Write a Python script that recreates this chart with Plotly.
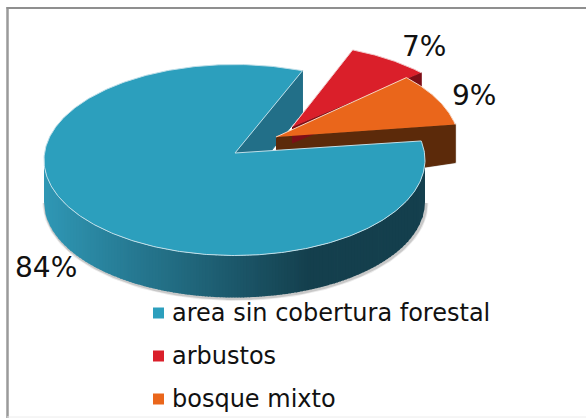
import numpy as np
import plotly.graph_objects as go

categories = ["area sin cobertura forestal", "arbustos", "bosque mixto"]
values = [84, 7, 9]
percent_labels = ["84%", "7%", "9%"]

top_colors = ["#2c9fbd", "#da1f2a", "#ea661b"]
wall_colors = ["#226f88", "#7d0e17", "#5c2a0a"]
START = 78.5          # clockwise from 12 o'clock, first slice
RX, RY = 190.5, 95.5
# ellipse centre, apex and wall depth of each (exploded) slice, in pixels
centres = [(234.5, 160.0), (284.0, 139.0), (268.5, 143.5)]
apexes = [(235.0, 153.0), (292.0, 127.0), (276.0, 137.0)]
depths = [42, 16, 38]
label_pos = [(46, 267), (424, 46), (474, 95)]
legend_y = [313, 356, 399]

fig = go.Figure()


def poly(xs, ys, color, line=None, width=1):
    fig.add_trace(go.Scatter(x=list(xs), y=list(ys), mode="lines", fill="toself",
                             fillcolor=color, line=dict(color=line or color, width=width),
                             hoverinfo="skip", showlegend=False))


def arc(c, a0, a1, n=120):
    t = np.radians(np.linspace(a0, a1, n))
    return c[0] + RX * np.sin(t), c[1] - RY * np.cos(t)


def mix(a, b, f):
    a = np.array([int(a[i:i + 2], 16) for i in (1, 3, 5)])
    b = np.array([int(b[i:i + 2], 16) for i in (1, 3, 5)])
    r = (a + (b - a) * f).round().astype(int)
    return f"rgb({r[0]},{r[1]},{r[2]})"


total = sum(values)
angles = [START]
for v in values:
    angles.append(angles[-1] + v * 360 / total)

bx, by = arc(centres[0], angles[0], angles[1], 400)
ax, ay = arc(centres[2], angles[2], angles[3])
rx_, ry_ = arc(centres[1], angles[1], angles[2])

# inner cut wall of the blue slice
poly([apexes[0][0], bx[-1], bx[-1], apexes[0][0]],
     [apexes[0][1], by[-1], by[-1] + depths[0], apexes[0][1] + depths[0]], wall_colors[0])

# orange cut wall, with a soft shadow
wx = [apexes[2][0], ax[-1], ax[-1], apexes[2][0]]
wy = [apexes[2][1], ay[-1], ay[-1] + depths[2], apexes[2][1] + depths[2] + 14]
poly(wx, wy, wall_colors[2], "#bdb6b0", 2)
poly(wx, wy, wall_colors[2])

# red slice
poly([apexes[1][0], rx_[-1], rx_[-1], apexes[1][0]],
     [apexes[1][1], ry_[-1], ry_[-1] + depths[1], apexes[1][1] + depths[1]], wall_colors[1])
poly([apexes[1][0], *rx_], [apexes[1][1], *ry_], top_colors[1], "#f2c9cb")

# orange top over the red wall
poly([apexes[2][0], *ax], [apexes[2][1], *ay], top_colors[2], "#f6d6c2")

# front part of the blue rim: right-most point round to the left-most point
fx, fy = arc(centres[0], 90, 270, 400)
fyb = fy + depths[0]

# soft shadow below the round wall
for w, col in [(5, "rgba(120,120,120,0.15)"), (3, "rgba(120,120,120,0.3)")]:
    fig.add_trace(go.Scatter(x=fx + 1, y=fyb + 1, mode="lines", line=dict(color=col, width=w),
                             hoverinfo="skip", showlegend=False))

# round wall, shaded left to right
fo = np.argsort(fx)
fxs, fys = fx[fo], fyb[fo]
n = 130
edges = np.linspace(fxs[0], fxs[-1], n + 1)
for i in range(n):
    xs = np.linspace(edges[i], min(edges[i + 1] + 0.8, fxs[-1]), 6)
    ys = np.interp(xs, fxs, fys)
    yt = ys - depths[0]
    f = np.clip((0.5 * (edges[i] + edges[i + 1]) - fxs[0]) / 265, 0, 1)
    c = mix("#2f97b5", "#143f4d", f)
    fig.add_trace(go.Scatter(x=list(xs) + list(xs[::-1]), y=list(ys) + list(yt[::-1]), mode="lines",
                             fill="toself", fillcolor=c, line=dict(width=0),
                             hoverinfo="skip", showlegend=False))

# blue top
poly([apexes[0][0], *bx, apexes[0][0]], [apexes[0][1], *by, apexes[0][1]], top_colors[0], "#bfdfe9")

# frame
for xs, ys, col, w in [([7.5, 7.5], [7, 418], "#9a9a9a", 2.5), ([6.5, 586], [8, 8], "#8f8f8f", 2),
                       ([7, 586], [417, 417], "#ececec", 1)]:
    fig.add_trace(go.Scatter(x=xs, y=ys, mode="lines", line=dict(color=col, width=w),
                             hoverinfo="skip", showlegend=False))

# legend
for name, col, y in zip(categories, top_colors, legend_y):
    fig.add_trace(go.Scatter(x=[158.5], y=[y], mode="markers", name=name,
                             marker=dict(symbol="square", size=11, color=col), showlegend=False))
    fig.add_annotation(x=170, y=y, text=name, showarrow=False, xanchor="left", yanchor="middle",
                       font=dict(family="DejaVu Sans", size=24, color="#111111"))
for t_, (x, y) in zip(percent_labels, label_pos):
    fig.add_annotation(x=x, y=y, text=t_, showarrow=False, font=dict(family="DejaVu Sans", size=28, color="#111111"))

fig.update_layout(width=586, height=418, margin=dict(l=0, r=0, t=0, b=0),
                  paper_bgcolor="white", plot_bgcolor="white", showlegend=False,
                  xaxis=dict(range=[0, 586], visible=False, fixedrange=True),
                  yaxis=dict(range=[418, 0], visible=False, fixedrange=True))
fig.write_html("out.html", config=dict(displayModeBar=False),
               post_script="document.body.style.margin='0';document.body.style.overflow='hidden';")
